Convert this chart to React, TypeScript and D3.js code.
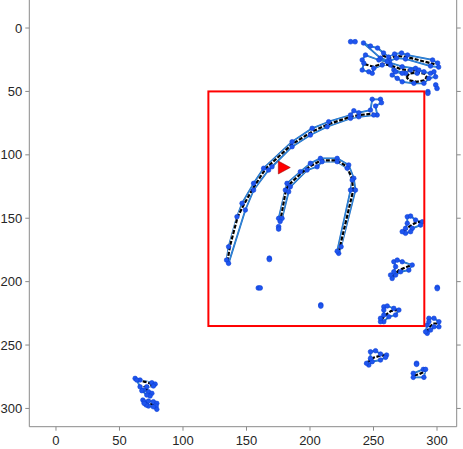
import React from "react";
import * as d3 from "d3";

type P = [number, number];

// ---- axis ticks ----
const xTicks = [0, 50, 100, 150, 200, 250, 300];
const yTicks = [0, 50, 100, 150, 200, 250, 300];

// ---- region of interest (red box) and target marker ----
const roiBox = { x0: 120, y0: 50, x1: 290, y1: 235 };
const targetPoint: P = [179, 110];

// ---- object outlines (polygons) ----
const outerArcOutline: P[] = [
  [134.3, 183], [135.9, 172.5], [142.5, 148.8], [146.5, 138.2], [155.6, 122.5], [163.5, 110.6],
  [185.9, 89.7], [201.7, 79.1], [214.7, 73.9], [231.9, 68.6], [234.5, 65.2], [238.4, 66.8],
  [247.6, 64.7], [249, 56.2], [255.5, 56.2], [256.3, 58.9], [251.6, 61.5], [252.9, 68.6],
  [250.2, 68.6], [238.4, 70], [231.9, 71.2], [213.5, 77.8], [200.3, 84.4], [185.9, 93.6],
  [170.1, 109.4], [167.4, 112], [155.6, 127.8], [149.1, 143.5], [135.9, 185.6],
];
const innerArcOutline: P[] = [
  [175.3, 150.1], [180.6, 127.8], [181.9, 122.5], [192.4, 113.3], [200.3, 106.7], [208.2, 102.8],
  [221.4, 102.8], [230.5, 108], [234.5, 118.5], [235.8, 127.8], [224.5, 172.5], [222.6, 177.7],
  [221.4, 176], [231.9, 127.8], [233.2, 119.9], [229.3, 110.6], [221.4, 105.4], [209.5, 105.4],
  [205.6, 109.4], [197.7, 112], [184.5, 125.2], [183.2, 129.1], [178, 150.1], [176.5, 152.5],
];
const blobA: P[] = [
  [242.1, 11.8], [247.6, 14.2], [253.2, 15.8], [257.9, 19.7], [261.8, 22.9], [266.6, 20.5],
  [272.1, 19.7], [276.8, 21.3], [296.5, 25.2], [300.5, 27.6], [301.3, 30.8], [294.9, 30],
  [275.2, 24.4], [268.1, 23.7], [262.6, 26], [255.5, 23.7],
];
const blobB: P[] = [
  [243.7, 21.3], [241.1, 25.2], [242.4, 27.8], [241.1, 33.1], [246.3, 34.5], [249, 35.7],
  [250.2, 31.8], [256.8, 29.2], [263.4, 29.2], [266, 33.1], [275.2, 35.7], [284.4, 35.7],
  [283.1, 31.8], [272.6, 30.5], [260.8, 26.6], [254.2, 25.2],
];
const blobC: P[] = [
  [264.7, 37.1], [267.4, 34.5], [272.6, 35.7], [279.2, 33.1], [285.7, 33.1], [289.7, 34.5],
  [294.9, 35.7], [297.6, 34.5], [298.9, 38.4], [293.6, 39.7], [289.7, 43.6], [281.8, 43.6],
  [272.6, 42.4], [268.7, 39.7],
];
const blobD: P[] = [
  [276.6, 148.8], [279.2, 148.3], [283.1, 151.4], [288.4, 152.8], [287.1, 155.4], [280.5, 158],
  [279.2, 160.6], [275.2, 161.9], [272.6, 160.6], [275.2, 158], [276.6, 154],
];
const blobE: P[] = [
  [266, 184.3], [268.7, 183], [272.6, 184.3], [280.5, 186.9], [277.8, 190.9], [271.3, 192.2],
  [267.4, 194.8], [264.7, 197.5], [263.4, 194.8], [266, 192.2], [267.4, 188.2],
];
const blobF: P[] = [
  [258.1, 219.8], [260.8, 219.2], [266, 221.1], [270, 222.4], [267.4, 226.3], [262.1, 227.7],
  [258.1, 231.6], [255.5, 231.6], [255.5, 228.9], [258.1, 226.3], [258.1, 222.4],
];
const blobG: P[] = [
  [293.6, 228.9], [297.6, 228.9], [301.5, 231.6], [301.5, 235.6], [297.6, 235.6], [294.9, 238.2],
  [292.3, 240.8], [291, 239.5], [292.3, 234.2], [293.6, 231.6],
];
const blobH: P[] = [
  [247.6, 255.3], [251.6, 254.5], [255.5, 257.1], [260.3, 257.9], [259.5, 259.7], [255.5, 261.8],
  [249, 263.1], [246.3, 265.8], [244.5, 264.4], [247.6, 260.5],
];
const blobI: P[] = [
  [281.3, 272.3], [289.2, 269.2], [291, 269.2], [289.7, 275.5], [281.3, 275.5],
];
const blobJ: P[] = [
  [62.3, 276.3], [66.2, 277.6], [75.5, 279.7], [78.1, 280.8], [76.7, 282.3], [71.5, 282.9],
  [68.9, 285.5], [72.8, 286.8], [75.5, 288.1], [74.1, 290.2], [71.5, 289.4], [67.6, 286],
  [66.2, 282.9], [63.6, 277.6],
];
const blobK: P[] = [
  [68.4, 293.4], [69.4, 294.7], [72.8, 294.2], [76.7, 294.7], [79.4, 296], [78.9, 298.1],
  [79.4, 300.7], [76.7, 298.7], [72.8, 298.1], [71, 297.3], [69.4, 296],
];

// ---- object centre lines ----
const outerArcCenter: P[] = [
  [135, 184], [137, 172], [143, 149], [148, 139], [156, 125], [165, 111], [186, 91.5],
  [202, 81.5], [214, 76], [232, 70], [240, 68.5], [250, 67.5],
];
const innerArcCenter: P[] = [
  [176.5, 153], [181, 128], [183, 124], [192, 115.5], [200, 109], [209, 104.3], [221, 104.3],
  [229, 109.2], [233, 118.5], [234, 128], [223, 175],
];
const centerA: P[] = [[257, 21.5], [262, 23.8], [268, 22], [276, 22.8], [298, 28.5]];
const centerB: P[] = [[243, 28.5], [250, 30.5], [257, 28], [263, 29.5], [272, 32.5], [283, 34]];
const centerC: P[] = [
  [276, 38.6], [278, 36], [284, 34.8], [290, 36], [292, 38.6], [290, 41.2], [284, 42.4], [278, 41.2], [276, 38.6],
];
const centerD: P[] = [[274, 160], [279, 156], [284, 153], [288, 152.8]];
const centerE: P[] = [[265, 196], [270, 191], [276, 188.5], [280, 187]];
const centerF: P[] = [[256, 230], [260, 226], [264, 223], [269, 222.5]];
const centerG: P[] = [[292, 240], [294, 236], [297, 233], [301, 233]];
const centerH: P[] = [[245, 264], [250, 260], [255, 258.5], [260, 258]];
const centerI: P[] = [[282, 274], [286, 273], [290, 271]];
const centerJ: P[] = [[64, 277.5], [70, 279], [77, 281], [70, 283], [73, 287], [75, 289]];
const centerK: P[] = [[70, 295], [74, 296], [78, 298]];

// ---- isolated detections ----
const looseDots: P[] = [
  [232, 10.8], [235.5, 10.8], [299, 44.9], [300, 47.6], [292.8, 50.2], [292.8, 51.5],
  [283.9, 264.4], [283.9, 265.2], [300.2, 204.5], [300.2, 205.5], [168, 181.5], [168, 182.5],
  [159.3, 205], [160.8, 205], [208.5, 218.3], [208.5, 219.3], [175.3, 156.7], [175.3, 158.5],
];

const outlines: P[][] = [
  outerArcOutline, innerArcOutline, blobA, blobB, blobC, blobD, blobE, blobF, blobG, blobH, blobI, blobJ, blobK,
];
const centers: P[][] = [
  outerArcCenter, innerArcCenter, centerA, centerB, centerC, centerD, centerE, centerF, centerG, centerH, centerI, centerJ, centerK,
];

const W = 463;
const H = 449;

export default function App() {
  const x = d3.scaleLinear().domain([-21, 315.5]).range([29.3, 456.7]);
  const y = d3.scaleLinear().domain([-22.1, 314.4]).range([0, 426.7]);
  const line = d3.line<P>().x((d) => x(d[0])).y((d) => y(d[1]));
  const closed = d3.line<P>().x((d) => x(d[0])).y((d) => y(d[1])).curve(d3.curveLinearClosed);

  const left = x.range()[0];
  const right = x.range()[1];
  const bottom = y.range()[1];
  const axisColor = "#8a8a8a";
  const textColor = "#262626";
  const font = "'Liberation Sans', Arial, Helvetica, sans-serif";

  const tx = x(targetPoint[0]);
  const ty = y(targetPoint[1]);

  return (
    <svg
      width={W}
      height={H}
      style={{ position: "absolute", left: 0, top: 0, background: "#fff" }}
      fontFamily={font}
    >
      <rect x={0} y={0} width={W} height={H} fill="#fff" />
      {/* axes box */}
      <line x1={left} x2={left} y1={-2} y2={bottom} stroke={axisColor} strokeWidth={1} />
      <line x1={right} x2={right} y1={-2} y2={bottom} stroke={axisColor} strokeWidth={1} />
      <line x1={left} x2={right} y1={bottom} y2={bottom} stroke={axisColor} strokeWidth={1} />
      {xTicks.map((t) => (
        <g key={"xt" + t}>
          <line x1={x(t)} x2={x(t)} y1={bottom} y2={bottom + 4} stroke={axisColor} />
          <text x={x(t)} y={bottom + 18} textAnchor="middle" fontSize={13} fill={textColor}>
            {t}
          </text>
        </g>
      ))}
      {yTicks.map((t) => (
        <g key={"yt" + t}>
          <line x1={left - 4} x2={left} y1={y(t)} y2={y(t)} stroke={axisColor} />
          <line x1={right} x2={right + 4} y1={y(t)} y2={y(t)} stroke={axisColor} />
          <text x={left - 7} y={y(t)} dy="0.35em" textAnchor="end" fontSize={13} fill={textColor}>
            {t}
          </text>
        </g>
      ))}

      {/* outlines */}
      {outlines.map((poly, i) => (
        <g key={"o" + i}>
          <path d={closed(poly) || ""} fill="none" stroke="#1565c0" strokeWidth={1.8} strokeLinejoin="round" />
          <path d={closed(poly) || ""} fill="none" stroke="#4aa3ec" strokeWidth={0.6} strokeLinejoin="round" />
        </g>
      ))}
      {/* centre lines */}
      {centers.map((c, i) => (
        <g key={"c" + i}>
          <path d={line(c) || ""} fill="none" stroke="#fff" strokeWidth={2.4} />
          <path d={line(c) || ""} fill="none" stroke="#000" strokeWidth={2.2} strokeDasharray="4 1.6" />
        </g>
      ))}
      {/* vertex markers */}
      {outlines.map((poly, i) =>
        poly.map((p, j) => (
          <circle key={"m" + i + "-" + j} cx={x(p[0])} cy={y(p[1])} r={2.3} fill="#1f55ee" stroke="#0b3fd6" strokeWidth={0.6} />
        ))
      )}
      {looseDots.map((p, j) => (
        <circle key={"d" + j} cx={x(p[0])} cy={y(p[1])} r={2.4} fill="#1f55ee" stroke="#0b3fd6" strokeWidth={0.6} />
      ))}

      {/* region box */}
      <rect
        x={x(roiBox.x0)}
        y={y(roiBox.y0)}
        width={x(roiBox.x1) - x(roiBox.x0)}
        height={y(roiBox.y1) - y(roiBox.y0)}
        fill="none"
        stroke="#ff0000"
        strokeWidth={2}
      />
      {/* target marker */}
      <path
        d={`M${tx - 5},${ty - 6.5} L${tx + 7},${ty} L${tx - 5},${ty + 6.5} Z`}
        fill="#ff0000"
        stroke="#8b0000"
        strokeWidth={0.5}
      />
    </svg>
  );
}
